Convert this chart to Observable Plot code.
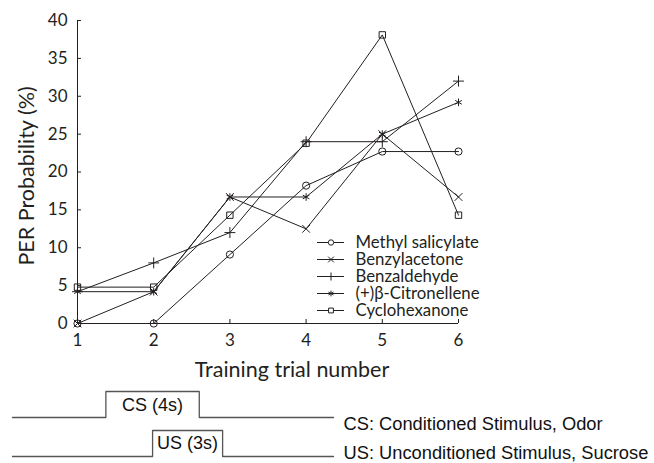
<!DOCTYPE html>
<html><head><meta charset="utf-8">
<script src="https://cdn.jsdelivr.net/npm/d3@7"></script>
<script src="https://cdn.jsdelivr.net/npm/@observablehq/plot@0.6"></script>
<style>
html,body{margin:0;padding:0;background:#fff;}
#wrap{position:relative;width:654px;height:463px;overflow:hidden;background:#fff;}
#main,#legend,#diagram{position:absolute;line-height:0;}
#wrap svg{display:block;}
#main{left:0;top:0;} #legend{left:310px;top:230px;} #diagram{left:0;top:385px;}
</style></head><body>
<div id="wrap"><div id="main"></div><div id="legend"></div><div id="diagram"></div></div>
<script>
// ---- data ----
const trials = [1, 2, 3, 4, 5, 6];
const seriesNames = ["Methyl salicylate", "Benzylacetone", "Benzaldehyde", "(+)β-Citronellene", "Cyclohexanone"];
const methylSalicylate = [0, 0, 9.1, 18.2, 22.7, 22.7];
const benzylacetone = [0, 4.2, 16.7, 12.5, 25, 16.7];
const benzaldehyde = [4.2, 8, 12, 24, 24, 32];
const citronellene = [4.2, 4.2, 16.7, 16.7, 25, 29.2];
const cyclohexanone = [4.8, 4.8, 14.3, 23.8, 38.1, 14.3];
const seriesSymbols = ["circle", "times", "plus", "asterisk", "square"];
const yTicks = [0, 5, 10, 15, 20, 25, 30, 35, 40];
const xTicks = [1, 2, 3, 4, 5, 6];
const yTitle = "PER Probability (%)";
const xTitle = "Training trial number";

// stimulus timing diagram (seconds)
const csTimes = [-4, 0, 0, 4, 4, 9.75];
const csOn = [0, 0, 1, 1, 0, 0];
const usTimes = [-4, 2, 2, 5, 5, 9.75];
const usOn = [0, 0, 1, 1, 0, 0];
const csLabel = "CS (4s)";
const usLabel = "US (3s)";
const csKey = "CS: Conditioned Stimulus, Odor";
const usKey = "US: Unconditioned Stimulus, Sucrose";

// ---- build ----
const allValues = [methylSalicylate, benzylacetone, benzaldehyde, citronellene, cyclohexanone];
const rows = seriesNames.flatMap((name, i) => trials.map((t, j) => ({series: name, trial: t, value: allValues[i][j]})));
const ink = "#231f20";
const font = "Lato, 'Open Sans', sans-serif";

const main = Plot.plot({
  width: 654, height: 385,
  marginLeft: 77, marginRight: 196, marginTop: 20, marginBottom: 62,
  style: {fontFamily: font, color: ink, background: "white", overflow: "visible"},
  x: {domain: [1, 6]},
  y: {domain: [0, 40]},
  symbol: {domain: seriesNames, range: seriesSymbols},
  marks: [
    Plot.ruleX([1], {stroke: ink}),
    Plot.ruleY([0], {stroke: ink}),
    Plot.axisY(yTicks, {tickSize: -4, tickPadding: 14, label: null, fontSize: 17, stroke: ink, fill: ink}),
    Plot.axisX(xTicks, {tickSize: -4, tickPadding: 14, label: null, fontSize: 17, stroke: ink, fill: ink}),
    Plot.text([yTitle], {frameAnchor: "left", textAnchor: "middle", rotate: -90, dx: -50, dy: 4, fontSize: 21.5, fill: ink, lineAnchor: "middle"}),
    Plot.text([xTitle], {frameAnchor: "bottom", textAnchor: "middle", dx: 24, dy: 53, fontSize: 21.5, fill: ink, lineAnchor: "bottom"}),
    Plot.line(rows, {x: "trial", y: "value", z: "series", stroke: ink, strokeWidth: 1}),
    Plot.dot(rows, {x: "trial", y: "value", symbol: "series", r: 3.6, stroke: ink, fill: "none", strokeWidth: 1})
  ]
});
document.getElementById("main").append(main);

const legend = Plot.plot({
  width: 180, height: 92, margin: 0,
  style: {fontFamily: font, color: ink, background: "transparent"},
  x: {type: "identity"},
  y: {type: "point", domain: seriesNames, range: [11, 80], padding: 0, axis: null},
  symbol: {domain: seriesNames, range: seriesSymbols},
  marks: [
    Plot.ruleY(seriesNames, {y: d => d, x1: 7, x2: 34, stroke: ink, strokeWidth: 1}),
    Plot.dot(seriesNames, {y: d => d, x: 20.5, symbol: d => d, r: 2.7, stroke: ink, fill: "white", strokeWidth: 1}),
    Plot.text(seriesNames, {y: d => d, x: 45, text: d => d, textAnchor: "start", fontSize: 16.8, fill: ink, lineAnchor: "middle"})
  ]
});
document.getElementById("legend").append(legend);

const csRows = csTimes.map((t, i) => ({t, level: 1.5 + csOn[i]}));
const usRows = usTimes.map((t, i) => ({t, level: usOn[i]}));
const dfont = "'Liberation Sans', Arial, sans-serif";
const diagram = Plot.plot({
  width: 654, height: 78,
  marginLeft: 12, marginRight: 321, marginTop: 6, marginBottom: 7,
  style: {fontFamily: dfont, color: "#111", background: "transparent", overflow: "visible"},
  x: {domain: [-4, 9.75], axis: null},
  y: {domain: [0, 2.5], axis: null},
  marks: [
    Plot.line(csRows, {x: "t", y: "level", stroke: "#555", strokeWidth: 1.3}),
    Plot.line(usRows, {x: "t", y: "level", stroke: "#555", strokeWidth: 1.3}),
    Plot.text([csLabel], {x: (csTimes[1] + csTimes[3]) / 2, y: 2.5, lineAnchor: "top", dy: 7, fontSize: 18, fill: "#111"}),
    Plot.text([usLabel], {x: (usTimes[1] + usTimes[3]) / 2, y: 1, lineAnchor: "top", dy: 6, fontSize: 18, fill: "#111"}),
    Plot.text([csKey], {x: csTimes[csTimes.length - 1], y: 1.5, textAnchor: "start", lineAnchor: "bottom", dx: 10, dy: 12, fontSize: 18.3, fill: "#111"}),
    Plot.text([usKey], {x: usTimes[usTimes.length - 1], y: 0, textAnchor: "start", lineAnchor: "bottom", dx: 10, dy: 2, fontSize: 18.3, fill: "#111"})
  ]
});
document.getElementById("diagram").append(diagram);
</script>
</body></html>
